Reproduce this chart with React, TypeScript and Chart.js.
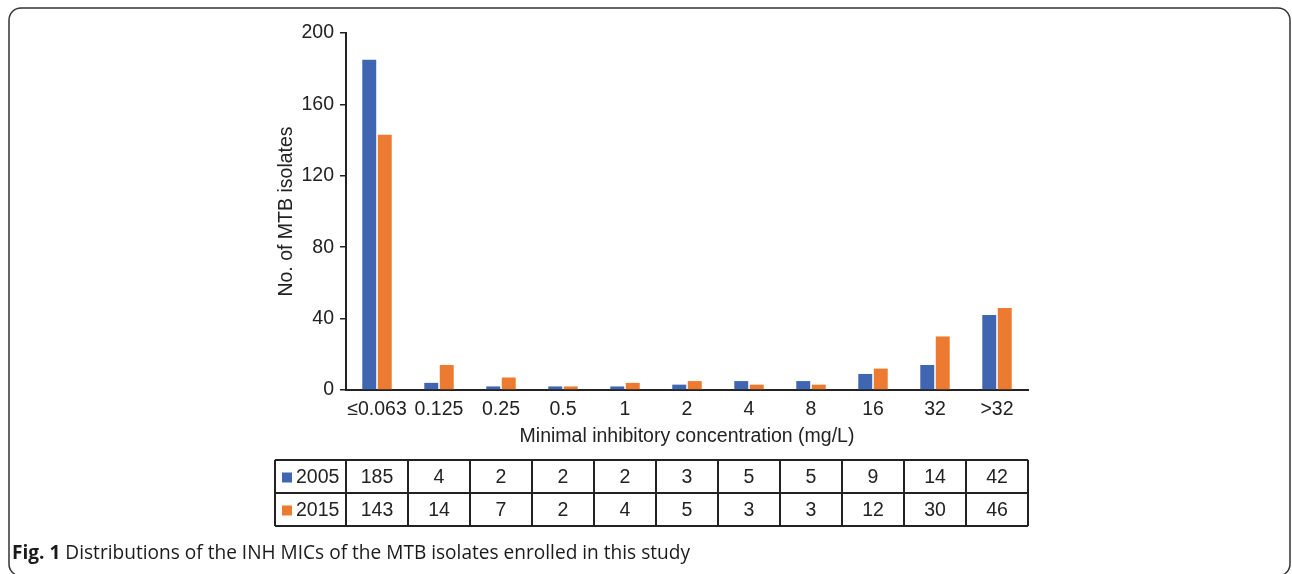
import React, { useEffect, useRef } from "react";
import { Chart, registerables } from "chart.js";

Chart.register(...registerables);

const categories = ["≤0.063", "0.125", "0.25", "0.5", "1", "2", "4", "8", "16", "32", ">32"];
const series2005 = [185, 4, 2, 2, 2, 3, 5, 5, 9, 14, 42];
const series2015 = [143, 14, 7, 2, 4, 5, 3, 3, 12, 30, 46];
const seriesLabels = ["2005", "2015"];
const yTickValues = [0, 40, 80, 120, 160, 200];
const seriesColors = ["#4066B1", "#EC7A30"];
const yTitle = "No. of MTB isolates";
const xTitle = "Minimal inhibitory concentration (mg/L)";
const captionBold = "Fig. 1";
const captionText = " Distributions of the INH MICs of the MTB isolates enrolled in this study";

const FONT = "'Liberation Sans', Arial, Helvetica, sans-serif";
const FS = 19.5;
const INK = "#222222";

const decorPlugin = {
  id: "decor",
  afterDraw(chart: any) {
    const ctx = chart.ctx as CanvasRenderingContext2D;
    const area = chart.chartArea;
    const xs = chart.scales.x;
    const ys = chart.scales.y;
    ctx.save();

    // outer frame
    ctx.strokeStyle = "#333333";
    ctx.lineWidth = 1.5;
    ctx.beginPath();
    ctx.roundRect(9, 8, 1281, 568, 12);
    ctx.stroke();

    // table
    const half = (xs.getPixelForValue(1) - xs.getPixelForValue(0)) / 2;
    const tableLeft = ys.left;
    const edges = [tableLeft];
    categories.forEach((_, i) => edges.push(xs.getPixelForValue(i) - half));
    edges.push(area.right);
    const top = area.bottom + 70;
    const rowH = 33;
    const rows = [series2005, series2015];
    ctx.strokeStyle = INK;
    ctx.lineWidth = 2;
    ctx.beginPath();
    for (let r = 0; r <= rows.length; r++) {
      ctx.moveTo(edges[0], top + r * rowH);
      ctx.lineTo(edges[edges.length - 1], top + r * rowH);
    }
    edges.forEach((e) => {
      ctx.moveTo(e, top);
      ctx.lineTo(e, top + rows.length * rowH);
    });
    ctx.stroke();

    ctx.font = `${FS}px ${FONT}`;
    ctx.fillStyle = INK;
    ctx.textBaseline = "middle";
    rows.forEach((vals, r) => {
      const cy = top + r * rowH + rowH / 2 + 1;
      ctx.fillStyle = seriesColors[r];
      ctx.fillRect(tableLeft + 7, cy - 5, 10, 10);
      ctx.fillStyle = INK;
      ctx.textAlign = "left";
      ctx.fillText(seriesLabels[r], tableLeft + 21, cy);
      ctx.textAlign = "center";
      vals.forEach((v, i) => {
        ctx.fillText(String(v), xs.getPixelForValue(i), cy);
      });
    });

    // caption
    const capY = 553;
    ctx.textAlign = "left";
    ctx.textBaseline = "middle";
    ctx.fillStyle = "#1a1a1a";
    const boldFont = `bold 20px 'Open Sans', sans-serif`;
    const normFont = `20px 'Open Sans', sans-serif`;
    ctx.font = boldFont;
    const wb = ctx.measureText(captionBold).width;
    ctx.font = normFont;
    const wn = ctx.measureText(captionText).width;
    const target = 678;
    const sx = target / (wb + wn);
    ctx.translate(12, capY);
    ctx.scale(sx, 1);
    ctx.font = boldFont;
    ctx.fillText(captionBold, 0, 0);
    ctx.font = normFont;
    ctx.fillText(captionText, wb, 0);

    ctx.restore();
  },
};

export default function App() {
  const ref = useRef<HTMLCanvasElement | null>(null);
  useEffect(() => {
    document.body.style.margin = "0";
    const canvas = ref.current!;
    const chart = new Chart(canvas, {
      type: "bar",
      data: {
        labels: categories,
        datasets: [
          {
            label: seriesLabels[0],
            data: series2005,
            backgroundColor: seriesColors[0],
            categoryPercentage: 0.5,
            barPercentage: 0.9,
          },
          {
            label: seriesLabels[1],
            data: series2015,
            backgroundColor: seriesColors[1],
            categoryPercentage: 0.5,
            barPercentage: 0.9,
          },
        ],
      },
      options: {
        responsive: false,
        animation: false,
        devicePixelRatio: 1,
        layout: { padding: { left: 275, right: 264, top: 33, bottom: 124 } },
        plugins: {
          legend: { display: false },
          tooltip: { enabled: false },
          title: { display: false },
        },
        scales: {
          x: {
            grid: { display: false, drawTicks: false },
            border: { display: true, color: INK, width: 2 },
            ticks: {
              color: INK,
              font: { family: FONT, size: FS },
              padding: 8,
              maxRotation: 0,
              autoSkip: false,
            },
            title: {
              display: true,
              text: xTitle,
              color: INK,
              font: { family: FONT, size: FS },
              padding: { top: 0, bottom: 2 },
            },
            afterFit(scale: any) {
              scale.height = 60;
            },
          },
          y: {
            min: 0,
            max: 200,
            afterBuildTicks(scale: any) {
              scale.ticks = yTickValues.map((v) => ({ value: v }));
            },
            grid: {
              display: true,
              drawOnChartArea: false,
              drawTicks: true,
              tickLength: 6,
              color: INK,
              lineWidth: 1.5,
            },
            border: { display: true, color: INK, width: 2 },
            ticks: {
              color: INK,
              font: { family: FONT, size: FS },
              padding: 6,
            },
            title: {
              display: true,
              text: yTitle,
              color: INK,
              font: { family: FONT, size: FS },
              padding: { top: 0, bottom: 0 },
            },
            afterFit(scale: any) {
              scale.width = 71;
            },
          },
        },
      },
      plugins: [decorPlugin],
    });
    return () => chart.destroy();
  }, []);
  return <canvas ref={ref} width={1292} height={574} style={{ display: "block" }} />;
}
